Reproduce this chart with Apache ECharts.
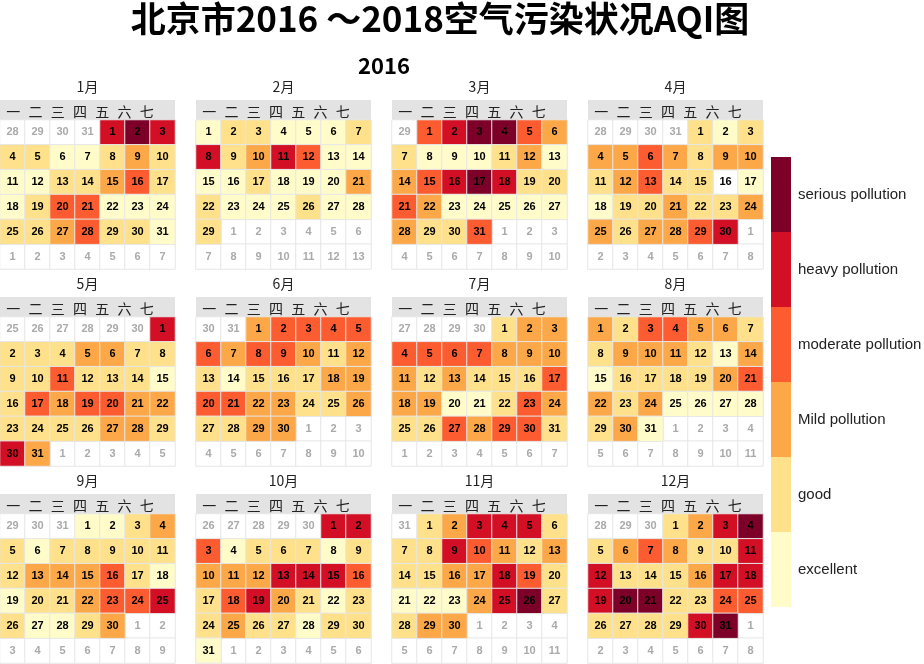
<!DOCTYPE html>
<html><head><meta charset="utf-8">
<script src="https://cdn.jsdelivr.net/npm/echarts@6/dist/echarts.min.js"></script>
<style>html,body{margin:0;padding:0;background:#fff}#c{width:924px;height:664px}</style>
</head><body><div id="c"></div>
<script>
const year = 2016;
const mainTitle = '北京市2016 ～2018空气污染状况AQI图';
const subTitle = '2016';
const monthNames = ['1月','2月','3月','4月','5月','6月','7月','8月','9月','10月','11月','12月'];
const weekdays = ['一','二','三','四','五','六','七'];
const levelNames = ['excellent','good','Mild pollution','moderate pollution','heavy pollution','serious pollution'];
const levelColors = ['#fffcca','#fee18a','#fca849','#fc5c2f','#d20f24','#7c0027'];

// AQI level per day (1 excellent ... 6 serious, null = no data)
const jan = [5,6,5, 2,2,1,1,2,3,2, 1,1,2,2,3,4,2, 1,2,4,4,1,1,1, 2,2,3,4,2,2,1];
const feb = [1,2,2,1,1,1,2, 5,2,3,5,4,1,1, 1,1,2,1,1,1,3, 2,1,1,1,2,1,1, 2];
const mar = [4,5,6,6,4,3, 2,1,1,1,2,3,1, 3,4,5,6,5,2,2, 4,3,1,1,1,1,1, 3,2,2,4];
const apr = [2,1,2, 3,3,4,3,2,3,3, 2,3,4,2,2,null,1, 1,2,2,3,2,2,3, 3,2,3,3,4,5];
const may = [5, 2,2,2,3,3,2,2, 2,2,4,2,2,2,1, 2,4,3,4,4,3,3, 2,2,2,2,3,3,2, 5,3];
const jun = [3,4,4,4,4, 4,3,4,4,3,2,3, 2,1,2,2,2,3,3, 4,4,3,3,2,2,3, 2,2,3,3];
const jul = [2,3,3, 4,4,4,4,3,3,3, 3,2,3,2,2,2,4, 3,3,1,1,2,4,3, 2,2,4,3,4,4,2];
const aug = [3,2,4,4,3,3,2, 2,3,3,3,2,1,3, 1,2,2,2,2,3,4, 3,2,3,1,1,1,1, 2,3,1];
const sep = [1,1,2,3, 2,1,2,2,2,2,2, 2,3,3,3,4,2,1, 1,2,2,3,4,4,5, 2,1,1,2,3];
const oct = [5,5, 4,1,2,2,2,1,2, 3,3,3,5,5,5,4, 2,4,5,3,2,1,2, 2,3,2,2,1,2,2, 1];
const nov = [2,3,5,5,5,2, 2,2,5,4,3,2,3, 2,2,3,3,5,4,2, 1,1,1,3,5,6,2, 2,3,3];
const dec = [2,3,5,6, 2,3,4,3,2,2,5, 5,2,2,2,3,5,5, 5,6,6,2,2,4,4, 2,2,2,2,5,6];
const monthLevels = [jan,feb,mar,apr,may,jun,jul,aug,sep,oct,nov,dec];

const NUM_FONT = '"Liberation Sans", Arial, sans-serif';
const CJK_FONT = '"Noto Sans CJK SC", sans-serif';
const COLS = 4, CELL_W = 175, HEAD_H = 20, BODY_H = 149, STEP_X = 196, STEP_Y = 197, TOP0 = 100;

const grids = [], xAxes = [], yAxes = [], series = [], dataSeriesIdx = [];
function addGrid(g, xa, ya) {
  const gi = grids.length;
  grids.push(Object.assign({outerBoundsMode:'none', containLabel:false, borderWidth:0}, g));
  xAxes.push(Object.assign({gridIndex: gi}, xa));
  yAxes.push(Object.assign({gridIndex: gi}, ya));
  return gi;
}
const hiddenCat = n => ({type:'category', data: Array.from({length:n}, (_, i) => i), show:false});

monthLevels.forEach((levels, m) => {
  const L = (m % COLS) * STEP_X, T = TOP0 + Math.floor(m / COLS) * STEP_Y;
  // header band + month name
  addGrid({left:L, top:T, width:CELL_W, height:HEAD_H, show:true, backgroundColor:'#e3e3e3'},
    {type:'category', data:[''], position:'top', axisLine:{show:false}, axisTick:{show:false},
     axisLabel:{show:false}, splitLine:{show:false}, name: monthNames[m], nameLocation:'middle', nameGap:6,
     nameTextStyle:{fontSize:14, color:'#222', fontFamily: CJK_FONT}},
    {type:'category', data:[''], show:false});
  // weekday labels
  addGrid({left:L + 2, top:T, width:156, height:HEAD_H},
    {type:'category', data: weekdays, position:'bottom', axisLine:{show:false}, axisTick:{show:false},
     splitLine:{show:false}, axisLabel:{inside:true, margin:1, fontSize:14, color:'#222', fontFamily: CJK_FONT}},
    {type:'category', data:[''], show:false});
  // day cells
  const gi = addGrid({left:L, top:T + HEAD_H, width:CELL_W, height:BODY_H}, hiddenCat(7), Object.assign(hiddenCat(6), {inverse:true}));

  const first = new Date(year, m, 1);
  const offset = (first.getDay() + 6) % 7;
  const daysIn = new Date(year, m + 1, 0).getDate();
  const prevDays = new Date(year, m, 0).getDate();
  const inData = [], outData = [];
  for (let k = 0; k < 42; k++) {
    const x = k % 7, y = Math.floor(k / 7);
    const d = k - offset + 1;
    if (d < 1) outData.push({value:[x, y, 0, prevDays + d]});
    else if (d > daysIn) outData.push({value:[x, y, 0, d - daysIn]});
    else if (levels[d - 1] == null) outData.push({value:[x, y, 0, d], label:{color:'#000'}});
    else inData.push([x, y, levels[d - 1], d]);
  }
  const common = {type:'heatmap', xAxisIndex: gi, yAxisIndex: gi, emphasis:{disabled:true},
    label:{show:true, formatter: p => p.value[3], fontSize:11, fontWeight:'bold', fontFamily: NUM_FONT}};
  series.push(Object.assign({}, common, {data: outData,
    itemStyle:{color:'#ffffff', borderColor:'#e6e6e6', borderWidth:1},
    label: Object.assign({}, common.label, {color:'#aaaaaa'})}));
  dataSeriesIdx.push(series.length);
  series.push(Object.assign({}, common, {data: inData,
    itemStyle:{borderColor:'#e6e6e6', borderWidth:1},
    label: Object.assign({}, common.label, {color:'#000'})}));
});

const chart = echarts.init(document.getElementById('c'), null, {renderer:'canvas'});
chart.setOption({
  animation:false,
  backgroundColor:'#fff',
  title:[
    {text: mainTitle, left:440, top:1, padding:0, textAlign:'center',
     textStyle:{fontSize:35, fontWeight:'bold', color:'#000', fontFamily: CJK_FONT}},
    {text: subTitle, left:384, top:55, padding:0, textAlign:'center',
     textStyle:{fontSize:22, fontWeight:'bold', color:'#000', fontFamily: CJK_FONT}}
  ],
  grid: grids, xAxis: xAxes, yAxis: yAxes, series: series,
  visualMap:{type:'piecewise', orient:'vertical', left:771, top:157, padding:0, align:'left',
    itemWidth:20, itemHeight:75, itemGap:0, textGap:7, itemSymbol:'rect',
    seriesIndex: dataSeriesIdx, dimension:2, selectedMode:false,
    pieces: levelNames.map((n, i) => ({value: i + 1, label: n, color: levelColors[i]})),
    textStyle:{fontSize:15, color:'#222', fontFamily: NUM_FONT}}
});
</script></body></html>
